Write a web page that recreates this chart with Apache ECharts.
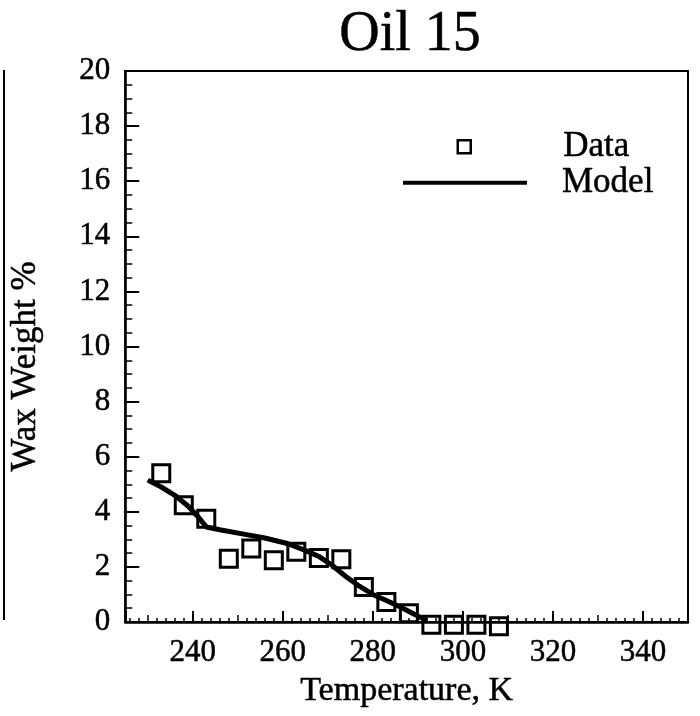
<!DOCTYPE html>
<html>
<head>
<meta charset="utf-8">
<script src="https://cdn.jsdelivr.net/npm/echarts@6/dist/echarts.min.js"></script>
<style>
  html, body { margin: 0; padding: 0; background: #fff; }
  #chart { width: 700px; height: 716px; }
</style>
</head>
<body>
<div id="chart"></div>
<script>
// ---- data ----
const titleText = 'Oil 15';
const xAxisTitle = 'Temperature, K';
const yAxisTitle = 'Wax Weight %';
const seriesNames = ['Data', 'Model'];

const dataT   = [233, 238, 243, 248, 253, 258, 263, 268, 273, 278, 283, 288, 293, 298, 303, 308];
const dataWax = [5.4, 4.24, 3.75, 2.3, 2.67, 2.24, 2.55, 2.32, 2.28, 1.27, 0.73, 0.32, -0.1, -0.1, -0.1, -0.15];

const modelT   = [230, 233, 236, 239, 241, 243, 246, 251, 256, 261, 265, 268, 271, 274, 277, 280, 283, 286, 289, 292];
const modelWax = [5.15, 4.9, 4.6, 4.2, 3.85, 3.45, 3.35, 3.2, 3.05, 2.85, 2.6, 2.38, 2.05, 1.65, 1.3, 1.0, 0.78, 0.55, 0.3, 0.05];

const xMin = 225, xMax = 350;
const yMin = 0, yMax = 20, yStep = 2;

// ---- chart ----
const FONT = '"Liberation Serif", "Times New Roman", serif';
const INK = { color: '#000', textBorderColor: '#000', textBorderWidth: 0.5 };
const chart = echarts.init(document.getElementById('chart'), null, { renderer: 'canvas' });

const scatterData = dataT.map((t, i) => [t, dataWax[i]]);
const modelData = modelT.map((t, i) => [t, modelWax[i]]);

chart.setOption({
  backgroundColor: '#fff',
  animation: false,
  title: {
    text: titleText,
    left: 410,
    top: 7,
    padding: 0,
    textAlign: 'center',
    textStyle: Object.assign({ fontFamily: FONT, fontSize: 56, fontWeight: 'normal' }, INK)
  },
  legend: [
    {
      data: [seriesNames[0]],
      left: 456.5, top: 129, padding: 0,
      itemWidth: 13, itemHeight: 13,
      icon: 'rect',
      itemStyle: { color: 'transparent', borderColor: '#000', borderWidth: 2.5, opacity: 1 },
      textStyle: Object.assign({ fontFamily: FONT, fontSize: 35, padding: [0, 0, 0, 87.5] }, INK)
    },
    {
      data: [seriesNames[1]],
      left: 403, top: 165, padding: 0,
      itemWidth: 124, itemHeight: 4,
      icon: 'rect',
      itemStyle: { color: '#000', borderWidth: 0, opacity: 1 },
      textStyle: Object.assign({ fontFamily: FONT, fontSize: 35, padding: [0, 0, 0, 30] }, INK)
    }
  ],
  grid: {
    left: 120, right: 12, top: 71, bottom: 94,
    show: true, borderColor: '#000', borderWidth: 2, backgroundColor: 'transparent'
  },
  xAxis: [
    {
      type: 'value', min: xMin, max: xMax, splitNumber: 6,
      name: xAxisTitle, nameLocation: 'middle', nameGap: 52,
      nameTextStyle: Object.assign({ fontFamily: FONT, fontSize: 34 }, INK),
      axisLine: { show: true, lineStyle: { color: '#000', width: 2.5 } },
      axisTick: { show: true, inside: true, length: 11, lineStyle: { color: '#000', width: 2 } },
      minorTick: { show: true, splitNumber: 10, length: 4, lineStyle: { color: '#000', width: 1.5 } },
      axisLabel: Object.assign({
        margin: 15, fontFamily: FONT, fontSize: 31,
        showMinLabel: false, showMaxLabel: false,
        formatter: v => (v % 20 === 0 ? String(v) : '')
      }, INK),
      splitLine: { show: false }
    },
    {
      type: 'value', min: xMin, max: xMax, splitNumber: 12, position: 'bottom',
      axisLine: { show: false },
      axisTick: { show: true, inside: true, length: 7, lineStyle: { color: '#000', width: 1.5 } },
      axisLabel: { show: false },
      splitLine: { show: false }
    }
  ],
  yAxis: {
    type: 'value', min: yMin, max: yMax, interval: yStep,
    name: yAxisTitle, nameLocation: 'middle', nameGap: 82,
    nameTextStyle: Object.assign({ fontFamily: FONT, fontSize: 35, padding: [0, 40, 0, 0] }, INK),
    axisLine: { show: true, lineStyle: { color: '#000', width: 2.5 } },
    axisTick: { show: true, inside: true, length: 14, lineStyle: { color: '#000', width: 2 } },
    minorTick: { show: true, splitNumber: 4, length: 7, lineStyle: { color: '#000', width: 1.5 } },
    axisLabel: Object.assign({ margin: 15, fontFamily: FONT, fontSize: 31 }, INK),
    splitLine: { show: false }
  },
  graphic: [
    { type: 'line', shape: { x1: 4, y1: 70, x2: 4, y2: 620 }, style: { stroke: '#000', lineWidth: 2 } }
  ],
  series: [
    {
      name: seriesNames[1],
      type: 'line',
      data: modelData,
      symbol: 'none',
      lineStyle: { color: '#000', width: 5, opacity: 1 },
      itemStyle: { color: '#000' },
      z: 2
    },
    {
      name: seriesNames[0],
      type: 'scatter',
      data: scatterData,
      symbol: 'rect',
      symbolSize: 17,
      clip: false,
      itemStyle: { color: 'transparent', borderColor: '#000', borderWidth: 3, opacity: 1 },
      z: 3
    }
  ]
});
</script>
</body>
</html>
